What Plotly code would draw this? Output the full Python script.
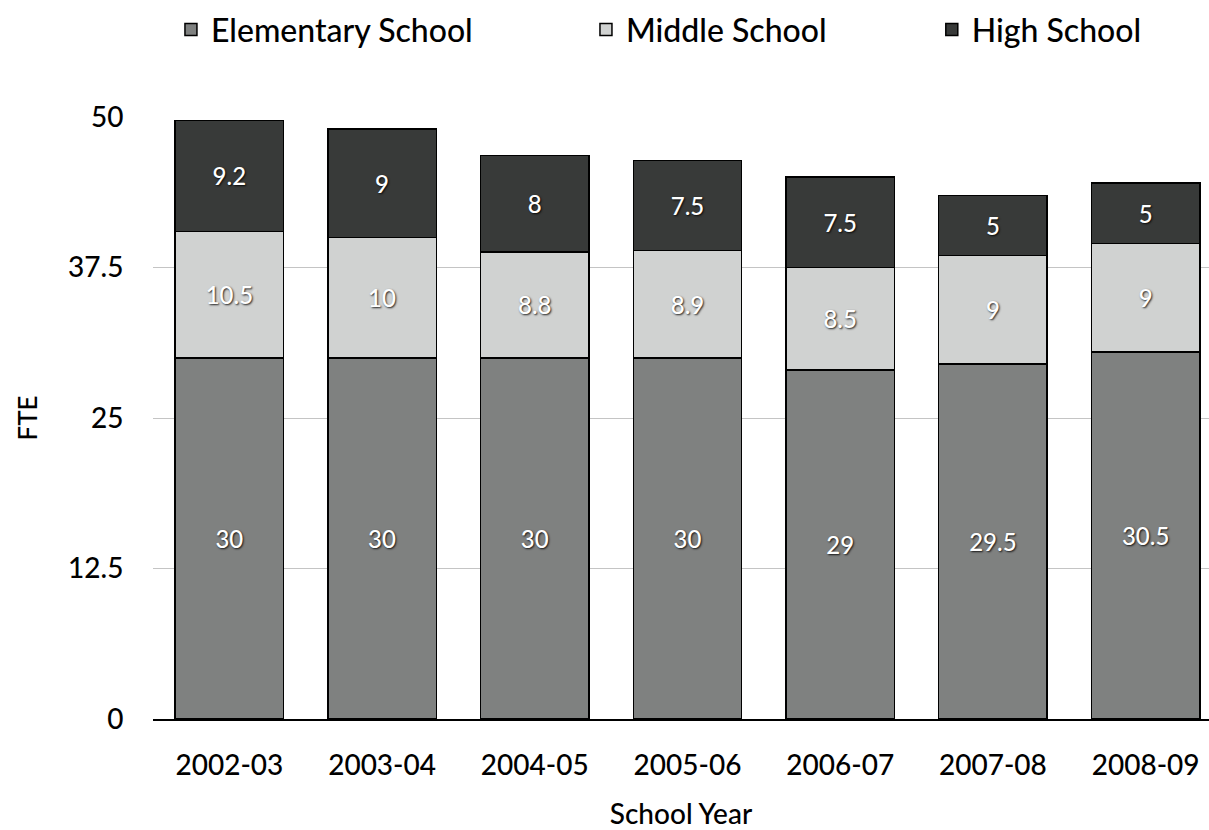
import plotly.graph_objects as go

years = ["2002-03", "2003-04", "2004-05", "2005-06", "2006-07", "2007-08", "2008-09"]
elementary = [30, 30, 30, 30, 29, 29.5, 30.5]
middle = [10.5, 10, 8.8, 8.9, 8.5, 9, 9]
high = [9.2, 9, 8, 7.5, 7.5, 5, 5]
y_ticks = [0, 12.5, 25, 37.5, 50]
y_ticktext = ["0", "12.5", "25", "37.5", "50"]

FONT = "Lato"
label_font = dict(family=FONT, size=24, color="white", weight=500,
                  shadow="1px 1px 2px rgba(0,0,0,0.85)")

series = [
    ("Elementary School", elementary, "#7f8180", "legend"),
    ("Middle School", middle, "#d0d2d1", "legend2"),
    ("High School", high, "#383a39", "legend3"),
]

fig = go.Figure()
for name, vals, color, lg in series:
    fig.add_trace(go.Bar(
        x=years, y=vals, name=name,
        marker=dict(color=color, line=dict(color="black", width=1.5)),
        text=[f"{v:g}" for v in vals],
        textposition="inside", insidetextanchor="middle",
        textfont=label_font, constraintext="none",
        legend=lg, hoverinfo="skip",
    ))

leg_common = dict(orientation="h", yanchor="middle", y=1.145, xanchor="left",
                  font=dict(family=FONT, size=32, color="black", weight=500),
                  bgcolor="rgba(0,0,0,0)")

fig.update_layout(
    barmode="stack",
    bargap=0.29,
    width=1209, height=830,
    margin=dict(l=153, r=0, t=117, b=111),
    plot_bgcolor="white", paper_bgcolor="white",
    font=dict(family=FONT, color="black"),
    showlegend=True,
    legend=dict(x=0.017, **leg_common),
    legend2=dict(x=0.41, **leg_common),
    legend3=dict(x=0.7375, **leg_common),
    xaxis=dict(
        type="category",
        range=[-0.5, 6.415],
        showgrid=False,
        showline=True, linecolor="black", linewidth=1.5,
        ticks="outside", ticklen=21, tickcolor="rgba(0,0,0,0)",
        tickfont=dict(family=FONT, size=28, color="black", weight=500),
        title=dict(text="School Year", font=dict(family=FONT, size=28, color="black", weight=500), standoff=25),
    ),
    yaxis=dict(
        range=[0, 50],
        tickvals=y_ticks, ticktext=y_ticktext,
        showgrid=True, gridcolor="#c4c4c4", gridwidth=1,
        zeroline=False,
        ticks="outside", ticklen=23, tickcolor="rgba(0,0,0,0)",
        tickfont=dict(family=FONT, size=28, color="black", weight=500),
        title=dict(text="FTE", font=dict(family=FONT, size=26, color="black", weight=500), standoff=22),
    ),
)

fig.write_html("out.html")
